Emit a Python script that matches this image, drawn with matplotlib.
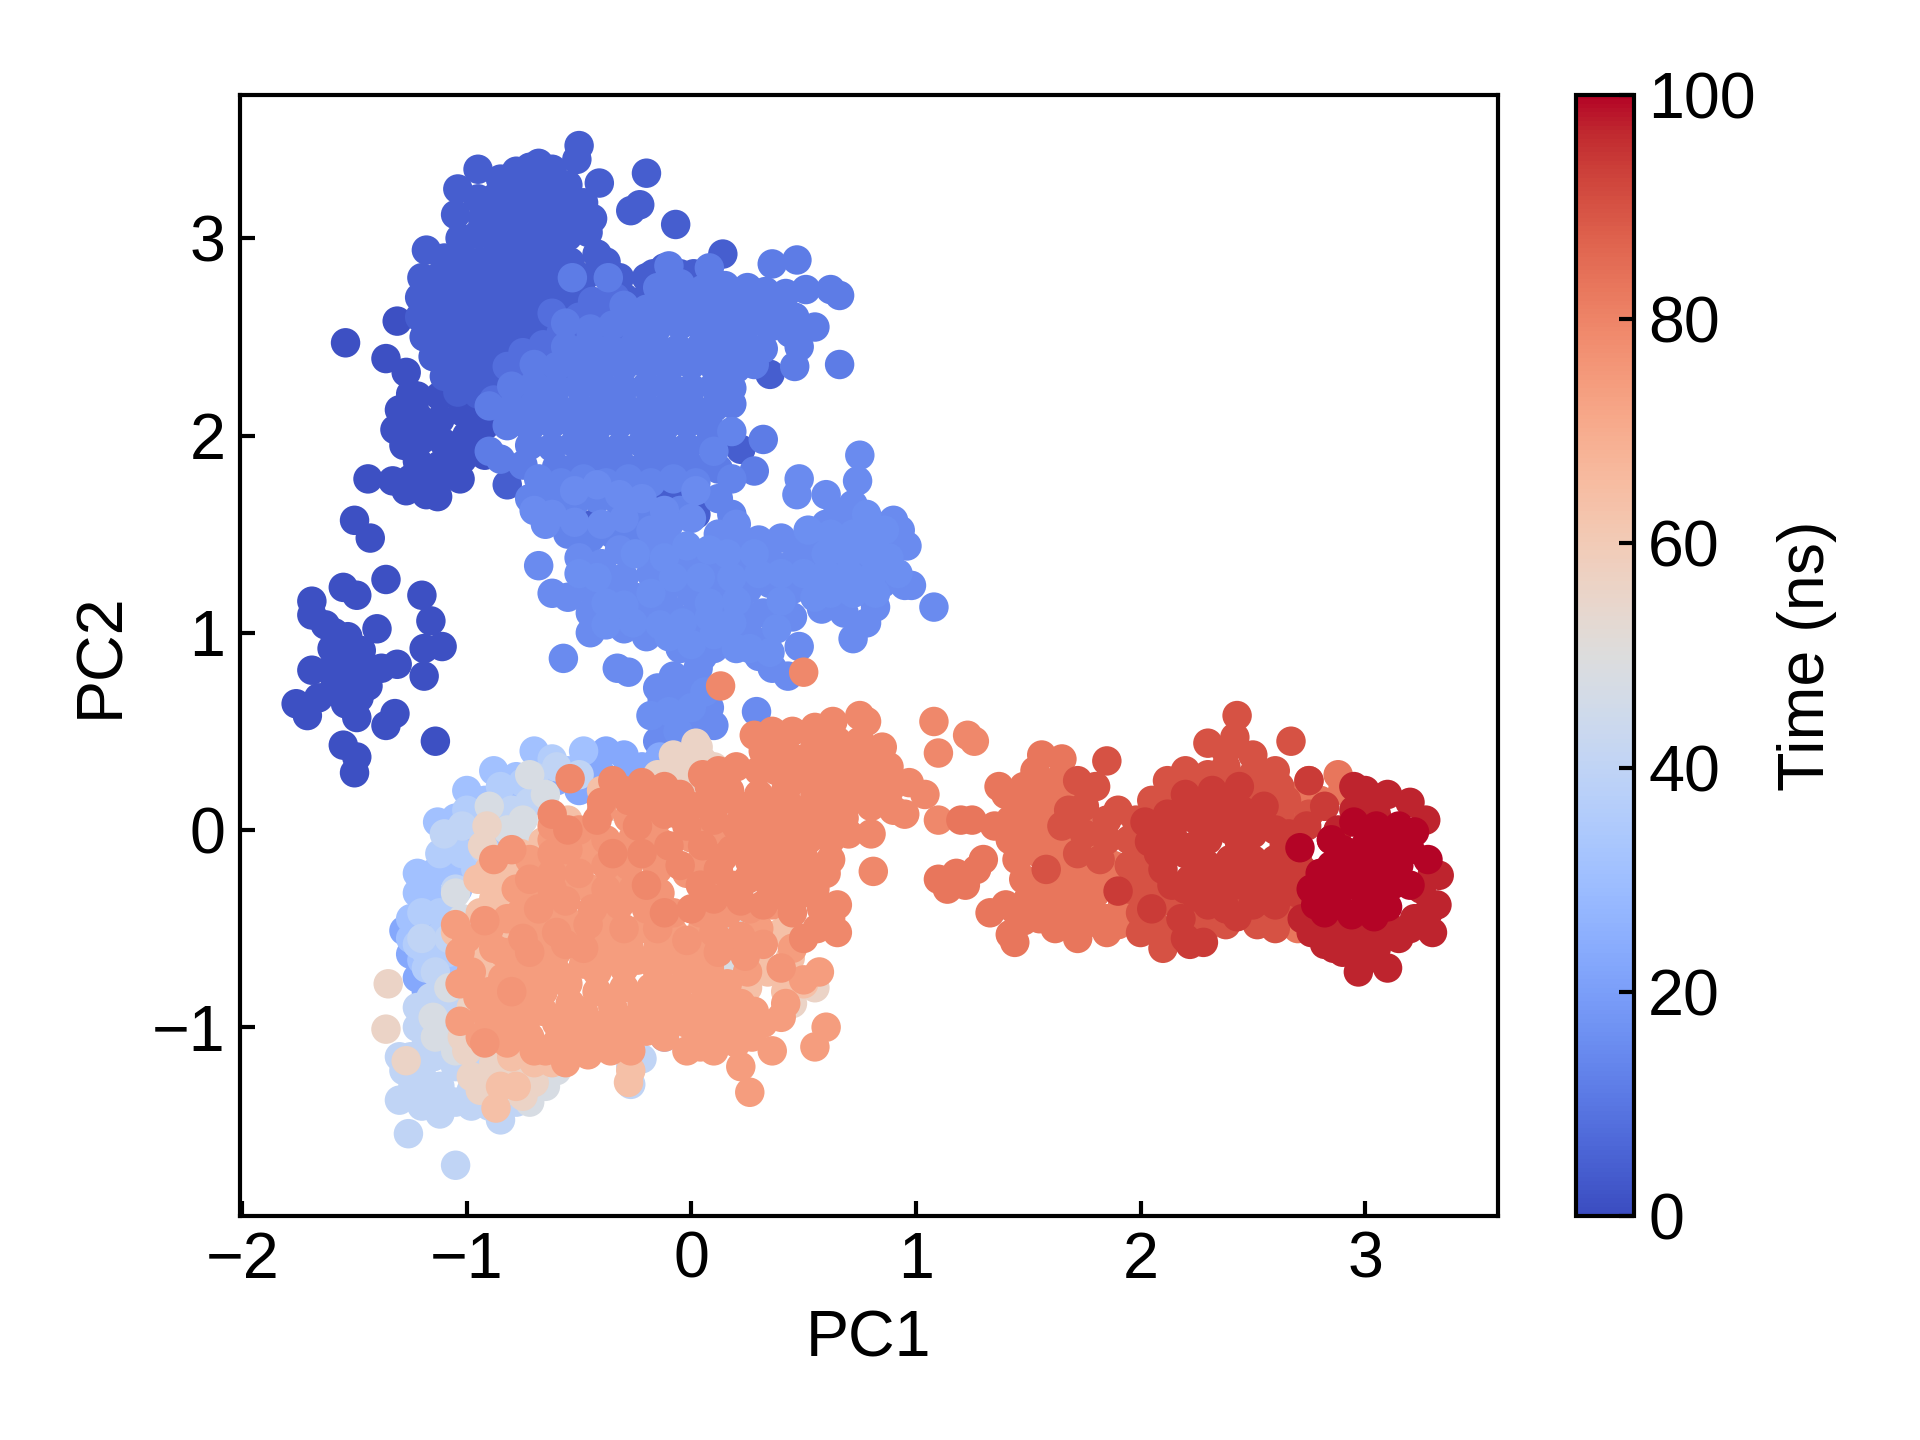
import numpy as np
import matplotlib
matplotlib.use("Agg")
import matplotlib.pyplot as plt

plt.rcParams['font.family'] = ['Liberation Sans', 'DejaVu Sans']
plt.rcParams['font.size'] = 15.5

# PC1/PC2 projections grouped by trajectory segment, oldest frames first
seg_01 = [(-1.69,1.16),(-1.69,1.09),(-1.55,1.23),(-1.49,1.19),(-1.40,1.02),(-1.36,1.27),(-1.20,1.19),(-1.16,1.06),
          (-1.19,0.92),(-1.11,0.93),(-1.19,0.78),(-1.31,0.84),(-1.32,0.59),(-1.36,0.53),(-1.14,0.45),(-1.55,0.43),
          (-1.49,0.37),(-1.50,0.29),(-1.76,0.64),(-1.71,0.58),(-1.69,0.81),(-1.63,1.04),(-1.59,1.00),(-1.53,0.98),
          (-1.60,0.92),(-1.52,0.86),(-1.45,0.83),(-1.66,0.67),(-1.59,0.72),(-1.54,0.64),(-1.48,0.67),(-1.44,0.73),
          (-1.49,0.57),(-1.56,0.78),(-1.61,0.81),(-1.47,0.91),(-1.38,0.82),(-1.51,0.75),(-1.44,1.78),(-1.50,1.57),
          (-1.43,1.48),(-1.33,1.77),(-1.25,1.78),(-1.13,1.69),(-1.32,2.03),(-1.30,2.13),(-1.25,2.21),(-1.27,2.32),
          (-1.36,2.39),(-1.31,2.58),(-1.54,2.47),(-1.30,2.05),(-1.22,2.10),(-1.12,2.08),(-1.02,2.12),(-1.28,1.95),
          (-1.20,1.98),(-1.10,1.96),(-1.00,2.00),(-0.92,2.05),(-1.22,1.87),(-1.12,1.85),(-1.02,1.88),(-0.92,1.90),
          (-1.20,1.76),(-1.12,1.78),(-1.03,1.78),(-1.27,1.72),(-1.18,1.70),(-1.22,2.20),(-1.12,2.20),(-1.02,2.22)]
seg_05 = [(-0.50,3.47),(-0.51,3.40),(-0.95,3.35),(-1.04,3.25),(-0.20,3.33),(-0.27,3.14),(-0.23,3.17),(-0.07,3.07),
          (-0.41,3.28),(0.14,2.92),(-0.68,3.38),(-0.72,3.36),(-0.62,3.35),(-0.78,3.34),(-0.85,3.30),(-0.77,3.28),
          (-0.70,3.30),(-0.62,3.27),(-0.55,3.27),(-0.95,3.20),(-0.87,3.21),(-0.80,3.19),(-0.72,3.20),(-0.64,3.18),
          (-0.56,3.20),(-0.48,3.18),(-1.05,3.12),(-0.93,3.10),(-0.84,3.12),(-0.76,3.09),(-0.68,3.10),(-0.60,3.11),
          (-0.52,3.08),(-0.44,3.10),(-1.03,3.00),(-0.95,3.02),(-0.87,2.99),(-0.79,3.01),(-0.71,3.00),(-0.63,2.99),
          (-0.55,3.01),(-0.46,3.03),(-1.18,2.94),(-1.10,2.90),(-1.02,2.91),(-0.94,2.88),(-0.86,2.90),(-0.78,2.91),
          (-0.70,2.89),(-0.62,2.90),(-0.54,2.88),(-0.42,2.92),(-0.38,2.88),(-1.20,2.80),(-1.12,2.81),(-1.04,2.79),
          (-0.96,2.80),(-0.88,2.78),(-0.80,2.80),(-0.72,2.79),(-0.64,2.81),(-0.56,2.78),(-0.48,2.80),(-0.32,2.80),
          (-1.21,2.70),(-1.13,2.69),(-1.05,2.71),(-0.97,2.70),(-0.89,2.68),(-0.81,2.70),(-0.73,2.69),(-0.65,2.71),
          (-0.57,2.68),(-0.49,2.70),(-0.40,2.67),(-0.30,2.70),(-1.21,2.60),(-1.13,2.59),(-1.05,2.61),(-0.97,2.60),
          (-0.89,2.58),(-0.81,2.60),(-0.73,2.59),(-0.65,2.61),(-0.57,2.58),(-0.49,2.60),(-0.40,2.56),(-1.19,2.50),
          (-1.11,2.51),(-1.03,2.49),(-0.95,2.50),(-0.87,2.48),(-0.79,2.50),(-0.71,2.52),(-0.63,2.49),(-0.50,2.50),
          (-1.15,2.40),(-1.07,2.41),(-0.99,2.39),(-0.91,2.40),(-0.83,2.38),(-0.75,2.41),(-1.10,2.30),(-1.02,2.31),
          (-0.94,2.29),(-0.86,2.30),(-1.04,2.22),(-0.95,2.21),(-0.20,2.80),(-0.17,2.82),(-0.12,2.85),(-0.05,2.82),
          (0.01,2.82),(0.05,2.78),(-0.20,2.70),(-0.28,2.62),(0.35,2.31),(0.22,1.93),(-0.25,1.75),(0.02,1.60),
          (-0.82,1.75),(-0.44,1.55),(-0.10,1.72),(-0.32,1.85)]
seg_09 = [(-0.75,2.42),(-0.66,2.46),(-0.58,2.52),(-0.50,2.60),(-0.44,2.68),(-0.62,2.38),(-0.53,2.44),(-0.45,2.50),
          (-0.38,2.58),(-0.70,2.32),(-0.60,2.30),(-0.48,2.36),(-0.40,2.42),(-0.32,2.50),(-0.78,2.25),(-0.88,2.18),
          (-0.82,2.35),(-0.62,2.62),(-0.34,2.70)]
seg_12 = [(-0.53,2.80),(-0.37,2.80),(-0.56,2.57),(-0.10,2.86),(0.08,2.85),(0.36,2.87),(0.47,2.89),(0.66,2.71),
          (0.62,2.74),(0.51,2.74),(0.55,2.55),(0.66,2.36),(0.46,2.35),(0.48,2.45),(-0.15,2.75),(-0.05,2.77),
          (0.05,2.74),(0.15,2.76),(0.25,2.75),(0.33,2.73),(0.42,2.72),(-0.30,2.66),(-0.20,2.64),(-0.10,2.66),
          (0.00,2.65),(0.10,2.64),(0.20,2.66),(0.30,2.64),(0.38,2.66),(0.46,2.60),(-0.45,2.54),(-0.35,2.56),
          (-0.25,2.54),(-0.15,2.55),(-0.05,2.56),(0.05,2.54),(0.15,2.55),(0.25,2.56),(0.35,2.55),(0.44,2.52),
          (-0.56,2.45),(-0.46,2.46),(-0.36,2.44),(-0.26,2.45),(-0.16,2.46),(-0.06,2.44),(0.04,2.45),(0.14,2.46),
          (0.24,2.45),(0.32,2.44),(-0.70,2.36),(-0.60,2.35),(-0.50,2.34),(-0.40,2.36),(-0.30,2.35),(-0.20,2.36),
          (-0.10,2.34),(0.00,2.36),(0.10,2.35),(0.20,2.34),(0.28,2.36),(-0.80,2.25),(-0.70,2.26),(-0.60,2.24),
          (-0.50,2.25),(-0.40,2.26),(-0.30,2.24),(-0.20,2.25),(-0.10,2.26),(0.00,2.24),(0.10,2.25),(0.18,2.24),
          (-0.90,2.15),(-0.80,2.14),(-0.70,2.16),(-0.60,2.15),(-0.50,2.14),(-0.40,2.16),(-0.30,2.15),(-0.20,2.14),
          (-0.10,2.16),(0.00,2.15),(0.10,2.14),(0.18,2.16),(-0.82,2.05),(-0.72,2.04),(-0.62,2.06),(-0.52,2.05),
          (-0.42,2.04),(-0.32,2.06),(-0.22,2.05),(-0.12,2.04),(-0.02,2.06),(0.08,2.04),(-0.90,1.92),(-0.85,1.88),
          (-0.72,1.95),(-0.62,1.94),(-0.52,1.96),(-0.42,1.95),(-0.32,1.94),(-0.22,1.96),(-0.12,1.95),(-0.02,1.94),
          (0.08,1.96),(0.32,1.98),(-0.75,1.85),(-0.60,1.84),(-0.50,1.86),(-0.40,1.85),(-0.30,1.84),(-0.20,1.86),
          (-0.10,1.85),(0.00,1.84),(0.12,1.83),(0.28,1.82)]
seg_15 = [(-0.68,1.78),(-0.58,1.76),(-0.48,1.78),(-0.38,1.76),(-0.28,1.78),(-0.18,1.76),(-0.08,1.78),(0.02,1.76),
          (0.18,1.78),(0.10,1.92),(0.18,2.02),(-0.72,1.68),(-0.62,1.68),(-0.52,1.66),(-0.42,1.68),(-0.32,1.66),
          (-0.22,1.60),(-0.05,1.62),(0.12,1.68),(0.18,1.60),(-0.55,1.50),(-0.45,1.48),(-0.35,1.50),(-0.25,1.50)]
seg_17 = [(-0.70,1.62),(-0.62,1.60),(-0.52,1.72),(-0.42,1.75),(-0.32,1.70),(-0.22,1.68),(-0.12,1.62),(0.02,1.72),
          (-0.65,1.55),(-0.52,1.56),(-0.40,1.55),(-0.30,1.58),(-0.18,1.52),(-0.10,1.55),(0.00,1.58),(0.12,1.50),
          (0.75,1.90),(0.74,1.77),(0.48,1.78),(0.47,1.70),(0.60,1.70),(0.72,1.65),(0.65,1.60),(0.60,1.55),
          (0.70,1.55),(0.80,1.56),(0.90,1.57),(0.93,1.52),(0.20,1.55),(0.20,1.45),(0.30,1.47),(0.40,1.48),
          (0.50,1.45),(0.60,1.46),(0.70,1.45),(0.80,1.44),(0.90,1.46),(0.96,1.44),(0.02,1.36),(0.12,1.35),
          (0.22,1.34),(0.35,1.36),(0.45,1.35),(0.55,1.34),(0.65,1.36),(0.75,1.35),(0.85,1.34),(-0.10,1.45),
          (-0.20,1.40),(-0.32,1.42),(-0.05,1.35),(-0.18,1.30),(-0.30,1.28),(-0.40,1.35),(-0.68,1.34),(-0.50,1.38),
          (-0.62,1.20),(-0.57,0.87),(0.29,0.60),(-0.55,1.18),(-0.45,1.22),(-0.35,1.20),(-0.25,1.18),(-0.12,1.22),
          (0.00,1.20),(0.12,1.24),(0.25,1.22),(0.35,1.25),(0.45,1.22),(0.55,1.24),(0.65,1.26),(0.75,1.26),
          (0.85,1.25),(0.95,1.24),(0.98,1.24),(1.08,1.13),(0.82,1.13),(0.78,1.05),(0.65,1.15),(0.68,1.10),
          (0.58,1.12),(0.72,0.97),(0.48,0.93),(-0.45,1.10),(-0.34,1.08),(-0.22,1.10),(-0.10,1.12),(0.02,1.10),
          (0.15,1.12),(0.25,1.08),(0.32,1.10),(0.45,1.08),(-0.45,1.00),(-0.30,1.02),(-0.20,0.98),(-0.05,1.00),
          (0.05,1.02),(0.15,0.98),(0.25,1.00),(0.32,0.95),(-0.05,0.92),(0.05,0.88),(0.10,0.92),(0.30,0.88),
          (0.36,0.82),(0.43,0.78),(-0.33,0.82),(-0.28,0.80),(0.03,0.82),(-0.15,0.72),(-0.08,0.78),(0.00,0.75),
          (-0.13,0.66),(-0.05,0.68),(0.03,0.65),(0.08,0.62),(-0.10,0.55),(-0.02,0.57),(0.05,0.55),(0.10,0.53),
          (-0.15,0.45),(-0.05,0.47),(0.02,0.42)]
seg_19 = [(-0.50,1.30),(-0.42,1.28),(-0.25,1.40),(-0.12,1.38),(-0.02,1.44),(0.08,1.42),(0.16,1.40),(0.28,1.40),
          (-0.38,1.15),(-0.30,1.14),(-0.18,1.20),(-0.08,1.28),(0.04,1.28),(0.18,1.28),(0.30,1.30),(0.40,1.30),
          (0.50,1.30),(0.60,1.30),(0.70,1.30),(0.80,1.28),(0.60,1.40),(0.70,1.40),(0.80,1.40),(0.88,1.38),
          (0.52,1.52),(0.62,1.50),(0.72,1.50),(0.82,1.50),(0.78,1.60),(0.86,1.52),(0.55,1.18),(0.62,1.20),
          (0.72,1.20),(0.82,1.20),(0.92,1.30),(0.40,1.16),(0.20,1.16),(0.08,1.15),(-0.04,1.05),(0.08,1.08),
          (0.18,1.05),(-0.14,1.04),(-0.26,1.05),(-0.38,1.04),(-0.10,0.98),(0.00,0.94),(0.10,0.99),(0.20,0.92),
          (0.26,0.92),(0.38,1.02),(0.35,0.90),(-0.10,0.60),(0.00,0.62),(0.06,0.70),(-0.06,0.50),(-0.18,0.58)]
seg_23 = [(-0.47,0.38),(-0.38,0.40),(-0.30,0.38),(-0.40,0.28),(-0.30,0.27),(-0.22,0.32),(-0.14,0.37),(-0.10,0.25),
          (-0.02,0.32),(-1.28,-0.51),(-1.25,-0.63),(-1.22,-0.75),(-1.18,-0.82),(-1.14,-0.90),(-1.12,-0.55),(-0.12,-1.05),
          (-0.60,0.25),(-0.50,0.20)]
seg_31 = [(-1.00,0.20),(-0.88,0.30),(-0.70,0.40),(-0.78,0.27),(-0.68,0.27),(-0.92,0.15),(-0.80,0.17),(-0.70,0.18),
          (-1.13,0.04),(-1.05,0.06),(-0.95,0.05),(-0.85,0.08),(-1.08,-0.08),(-1.00,-0.05),(-0.90,-0.03),(-1.22,-0.22),
          (-1.15,-0.22),(-1.05,-0.18),(-1.22,-0.32),(-1.14,-0.35),(-1.04,-0.30),(-1.25,-0.45),(-1.17,-0.48),(-1.08,-0.42),
          (-1.25,-0.55),(-1.15,-0.60),(-1.20,-0.66),(-1.10,-0.68),(-0.48,0.40),(-0.55,0.30)]
seg_36 = [(-0.85,0.22),(-0.75,0.24),(-0.62,0.36),(-1.00,0.10),(-0.92,0.02),(-1.12,-0.12),(-1.02,-0.12),(-0.96,-0.20),
          (-1.20,-0.42),(-1.12,-0.42),(-1.22,-0.58),(-1.12,-0.54),(-1.05,-0.48),(-1.18,-0.70),(-1.08,-0.62),(-1.18,-0.62)]
seg_40 = [(-0.50,0.28),(-0.60,0.32),(-0.70,0.27),(-0.80,0.10),(-0.72,0.14),(-1.10,-0.02),(-1.02,0.02),(-0.92,-0.10),
          (-1.05,-0.30),(-1.20,-0.55),(-1.14,-0.72),(-1.08,-0.55),(-1.22,-1.00),(-1.25,-1.15),(-1.30,-1.37),(-1.20,-1.40),
          (-1.12,-1.44),(-1.26,-1.54),(-1.05,-1.70),(-1.20,-1.25),(-1.12,-1.30),(-1.05,-1.38),(-0.98,-1.40),(-0.90,-1.40),
          (-0.85,-1.47),(-0.78,-1.38),(-0.70,-1.30),(-0.63,-1.22),(-0.58,-1.12),(-1.15,-1.15),(-1.05,-1.20),(-0.95,-1.25),
          (-0.85,-1.25),(-0.75,-1.20),(-1.10,-1.05),(-1.00,-1.08),(-0.90,-1.10),(-0.27,-1.29),(-0.27,-1.20),(-0.22,-1.16),
          (-1.18,-1.08),(-1.08,-1.15),(-0.98,-1.32),(-0.85,-1.35),(-0.78,-1.28),(-1.16,-1.32),(-1.10,-1.36),(-1.00,-1.18),
          (-1.08,-0.95),(-1.00,-0.95),(-1.16,-0.85),(-1.06,-0.85),(-1.28,-1.22),(-1.24,-1.30),(-1.30,-1.15),(-1.22,-0.90)]
seg_48 = [(-0.90,0.12),(-0.82,0.00),(-0.72,-0.08),(-0.75,0.05),(-0.85,-0.18),(-1.02,-0.45),(-1.05,-0.32),(-0.98,-0.55),
          (-1.08,-0.80),(-1.15,-0.95),(-1.14,-1.05),(-1.05,-1.12),(-0.78,-1.05),(-0.75,-1.15),(-0.68,-1.22),(-0.80,-1.32),
          (-0.90,-1.30),(-0.72,-1.38),(0.20,-0.45),(0.28,-0.55),(0.30,-0.62),(0.22,-0.60),(0.10,-0.68),(0.18,-0.72),
          (-0.70,-1.10),(-0.65,-1.30),(-0.60,-1.22),(-0.82,-1.12),(-0.72,0.28),(-0.65,0.18),(-0.62,0.05)]
seg_56 = [(-1.35,-0.78),(-1.36,-1.01),(-1.27,-1.17),(-0.91,0.02),(-0.93,-0.08),(-0.85,-0.15),(-1.00,-0.62),(-1.02,-0.78),
          (-0.98,-0.90),(-1.02,-1.05),(-0.98,-1.25),(-0.88,-1.25),(-1.00,-1.12),(-0.92,-1.02),(-0.80,-1.20),(-0.75,-1.35),
          (0.03,0.42),(0.05,0.35),(-0.15,0.28),(-0.03,0.30),(0.10,0.32),(-0.25,0.15),(-0.35,0.12),(0.00,0.22),
          (0.55,-0.80),(0.45,-0.88),(-0.88,-1.18),(-0.94,-1.32),(-0.70,-1.28),(-0.08,0.38),(0.02,0.44)]
seg_64 = [(-0.95,-0.25),(-0.85,-0.40),(-0.90,-0.55),(-1.05,-0.52),(-0.98,-0.62),(-0.90,-0.70),(-0.92,-1.00),(-0.85,-1.30),
          (-0.87,-1.41),(-0.78,-1.30),(-0.50,-1.05),(-0.27,-1.22),(-0.40,-1.10),(-0.68,-0.20),(-0.55,0.05),(-0.40,0.20),
          (0.28,-0.72),(0.42,-0.82),(0.50,-0.78),(0.34,-0.72),(0.25,-0.80),(0.44,-0.65),(0.40,-0.52),(-0.30,-1.05),
          (0.15,-0.32),(-0.12,-0.90),(-0.90,-0.20),(-0.82,-0.15),(-0.88,-0.35),(-0.78,-0.25),(-0.84,-0.55),(-0.80,-1.15),
          (-0.70,-1.18),(-0.95,-0.85),(-0.88,-0.90),(-0.62,-1.18),(-0.28,-1.28),(-0.94,-0.42),(-0.84,-0.30),(-0.72,-0.38),
          (-0.76,-0.12),(-0.66,-0.06)]
seg_73 = [(-1.05,-0.48),(-1.03,-0.62),(-1.00,-0.55),(-1.03,-0.78),(-1.03,-0.97),(-0.95,-0.85),(-0.90,-0.97),(-0.86,-1.05),
          (-0.80,-0.72),(-0.88,-0.60),(-0.82,-0.45),(-0.78,-0.30),(-0.72,-0.15),(-0.62,-0.05),(-0.70,-0.30),(-0.60,-0.18),
          (-0.48,-0.08),(-0.70,-0.50),(-0.58,-0.42),(-0.45,-0.30),(-0.32,-0.25),(-0.18,-0.28),(-0.72,-0.72),(-0.60,-0.62),
          (-0.48,-0.55),(-0.35,-0.48),(-0.22,-0.50),(-0.08,-0.52),(0.05,-0.50),(-0.78,-0.90),(-0.66,-0.82),(-0.55,-0.78),
          (-0.42,-0.72),(-0.30,-0.70),(-0.15,-0.72),(-0.02,-0.72),(0.08,-0.70),(-0.72,-1.05),(-0.60,-0.98),(-0.48,-0.92),
          (-0.35,-0.90),(-0.22,-0.88),(-0.10,-0.88),(0.02,-0.90),(0.12,-0.85),(0.22,-0.88),(-0.65,-1.12),(-0.52,-1.10),
          (-0.42,-1.05),(-0.32,-1.05),(-0.20,-1.02),(-0.12,-1.05),(-0.02,-1.12),(0.04,-1.10),(0.10,-1.12),(0.20,-1.08),
          (0.27,-1.05),(0.32,-0.98),(0.40,-0.95),(0.42,-0.88),(0.50,-0.76),(0.57,-0.72),(0.60,-1.00),(0.55,-1.10),
          (0.36,-1.12),(0.22,-1.20),(0.26,-1.33),(-0.55,-0.25),(-0.42,-0.12),(0.30,-0.50),(0.45,-0.60),
          (-0.98,-0.72),(-0.90,-0.82),(-0.84,-0.92),(-0.74,-0.98),(-0.94,-1.05),(-0.82,-1.08),(-0.90,-0.50),(-0.84,-0.62),
          (-0.76,-0.58),(-0.66,-0.62),(-0.76,-0.42),(-0.65,-0.42),(-0.52,-0.48),(-0.40,-0.58),(-0.28,-0.58),(-0.15,-0.60),
          (-0.72,-0.82),(-0.60,-0.72),(-0.48,-0.68),(-0.36,-0.62),(-0.24,-0.66),(-0.10,-0.66),(0.02,-0.62),(0.12,-0.60),
          (-0.66,-0.92),(-0.54,-0.88),(-0.42,-0.82),(-0.30,-0.80),(-0.18,-0.80),(-0.06,-0.80),(0.06,-0.80),(0.16,-0.78),
          (0.25,-0.72),(-0.60,-1.08),(-0.50,-1.00),(-0.38,-0.98),(-0.26,-0.96),(-0.14,-0.96),(-0.02,-0.98),(0.08,-0.98),
          (0.18,-0.95),(0.28,-0.92),(-0.56,-1.18),(-0.46,-1.14),(-0.36,-1.12),(-0.27,-1.12),(0.14,-1.02),(0.24,-0.98),
          (-0.84,-0.75),(-0.92,-0.92),(-0.70,-1.12),(-0.78,-1.00)]
seg_76 = [(-0.72,-0.25),(-0.62,-0.30),(-0.50,-0.22),(-0.38,-0.18),(-0.28,-0.18),(-0.15,-0.20),(-0.02,-0.22),(0.10,-0.24),
          (-0.68,-0.40),(-0.56,-0.36),(-0.44,-0.40),(-0.32,-0.38),(-0.20,-0.40),(-0.08,-0.42),(0.04,-0.42),(0.16,-0.42),
          (0.26,-0.40),(0.36,-0.38),(-0.60,-0.52),(-0.46,-0.48),(-0.30,-0.50),(-0.15,-0.50),(-0.02,-0.56),(0.10,-0.52),
          (0.22,-0.54),(0.32,-0.58),(-0.88,-0.15),(-0.55,-0.10),(-0.38,-0.05),(-0.26,-0.04),(-0.14,-0.06),(0.00,-0.04),
          (-0.48,-0.60),(-0.56,-0.58),(0.12,-0.62),(0.24,-0.64),(0.40,-0.70),(-0.38,-0.30),(-0.26,-0.30),(-0.14,-0.32),
          (-0.80,-0.10),(-0.62,-0.12),(-0.62,0.02),(-0.50,0.00),(-0.40,0.10),(-0.28,0.06),(-0.16,0.04),(-0.06,0.08),
          (0.05,-0.14),(0.12,-0.02),(-0.92,-0.46),(-0.75,-0.55),(-0.72,-0.62),(-0.92,-1.08),(-0.80,-0.82),(-0.62,-0.22)]
seg_78 = [(0.13,0.73),(0.50,0.80),(-0.54,0.26),(-0.55,0.00),(-0.42,0.05),(-0.35,0.25),(-0.28,0.15),(-0.20,0.12),
          (-0.12,0.22),(-0.05,0.18),(0.05,0.28),(0.12,0.30),(0.17,0.20),(0.28,0.48),(0.32,0.40),(0.38,0.30),
          (0.45,0.50),(0.55,0.52),(0.63,0.55),(0.75,0.58),(0.78,0.55),(0.55,0.42),(0.65,0.45),(0.75,0.45),
          (0.85,0.42),(0.30,0.18),(0.42,0.20),(0.52,0.25),(0.62,0.30),(0.72,0.32),(0.80,0.30),(0.88,0.20),
          (0.97,0.24),(0.90,0.10),(0.80,0.12),(0.70,0.14),(0.60,0.12),(0.50,0.08),(0.40,0.05),(0.30,0.02),
          (0.20,0.02),(0.10,0.05),(-0.02,0.02),(0.05,-0.08),(0.18,-0.10),(0.30,-0.12),(0.42,-0.08),(0.52,-0.05),
          (0.62,-0.05),(0.70,-0.02),(0.60,-0.22),(0.80,-0.02),(0.42,-0.22),(0.35,-0.28),(0.25,-0.25),(0.12,-0.20),
          (0.62,-0.15),(0.50,-0.32),(0.45,-0.42),(0.58,-0.40),(0.65,-0.38),(0.10,-0.35),(0.00,-0.40),(-0.12,-0.42),
          (-0.05,-0.18),(-0.35,-0.12),(-0.20,-0.28),(1.08,0.55),(1.10,0.39),(1.23,0.48),(1.26,0.45),(0.81,-0.21),
          (0.65,-0.52),(0.50,-0.55),(1.04,0.18),(0.95,0.08),(1.10,0.05),
          (0.36,0.50),(0.42,0.40),(0.50,0.36),(0.60,0.38),(0.70,0.38),(0.80,0.38),(0.88,0.32),(0.20,0.32),(0.30,0.30),
          (0.44,0.30),(0.55,0.32),(0.66,0.24),(0.76,0.22),(0.85,0.14),(0.22,0.12),(0.32,0.12),(0.44,0.12),(0.55,0.18),
          (0.12,0.14),(0.00,0.12),(0.08,0.22),(-0.12,0.08),(-0.24,0.02),(-0.10,-0.08),(-0.22,-0.12),(0.22,-0.04),
          (0.34,-0.04),(0.46,0.00),(0.58,0.04),(0.68,0.06),(0.14,-0.14),(0.26,-0.16),(0.38,-0.14),(0.50,-0.14),
          (0.52,-0.22),(0.30,-0.20),(0.18,-0.28),(0.04,-0.28),(0.42,-0.34),(0.32,-0.38),(0.22,-0.36),(0.55,-0.30),
          (-0.30,0.20),(-0.22,0.24),(-0.40,0.14),(-0.62,0.08),(0.62,-0.45),(0.56,-0.50)]
seg_83 = [(1.20,0.05),(1.25,0.05),(1.35,0.02),(1.10,-0.25),(1.14,-0.30),(1.18,-0.22),(1.22,-0.28),(1.27,-0.20),
          (1.30,-0.15),(1.33,-0.42),(1.42,-0.53),(1.44,-0.57),(1.37,0.22),(1.40,0.18),(1.53,0.30),(1.56,0.38),
          (1.65,0.36),(1.42,0.05),(1.50,0.10),(1.60,0.15),(1.70,0.20),(1.42,-0.05),(1.50,-0.02),(1.60,0.02),
          (1.72,0.05),(1.45,-0.15),(1.55,-0.12),(1.65,-0.10),(1.75,-0.08),(1.48,-0.25),(1.58,-0.22),(1.68,-0.25),
          (1.78,-0.20),(1.50,-0.35),(1.60,-0.32),(1.70,-0.38),(1.80,-0.32),(1.85,-0.25),(1.45,-0.42),(1.55,-0.45),
          (1.65,-0.45),(1.75,-0.48),(1.85,-0.45),(1.72,-0.55),(1.85,-0.52),(2.68,0.05),(2.75,0.25),(2.88,0.28),
          (2.90,0.20),(2.85,-0.35),(2.72,-0.25),(2.75,-0.40),
          (1.48,0.22),(1.56,0.24),(1.64,0.26),(1.52,0.16),(1.62,0.08),(1.46,0.04),(1.56,-0.04),(1.66,-0.02),(1.50,-0.08),
          (1.58,-0.16),(1.70,-0.16),(1.62,-0.28),(1.74,-0.28),(1.52,-0.30),(1.40,-0.38),(1.48,-0.46),(1.58,-0.40),
          (1.68,-0.42),(1.78,-0.40),(1.62,-0.50),(1.90,-0.48),(1.92,-0.38),(1.88,-0.18),(1.82,-0.10),(2.70,-0.50),
          (2.80,0.15),(2.72,0.18),(2.80,-0.48)]
seg_88 = [(1.58,-0.20),(1.85,0.35),(1.72,0.25),(1.80,0.22),(1.68,0.10),(1.75,0.12),(1.85,0.05),(1.90,0.10),
          (1.65,0.02),(1.75,-0.02),(1.85,-0.05),(1.95,-0.05),(2.05,0.00),(1.72,-0.12),(1.82,-0.15),(2.12,0.25),
          (2.20,0.30),(2.30,0.28),(2.40,0.25),(2.05,0.15),(2.15,0.10),(2.05,-0.20),(1.95,-0.30),(2.00,-0.42),
          (2.05,-0.45),(2.00,-0.52),(2.15,-0.52),(2.28,-0.52),(2.38,-0.48),(2.52,-0.48),(2.60,-0.50),(2.25,-0.42),
          (2.43,0.58),(2.42,0.47),(2.30,0.44),(2.38,0.40),(2.50,0.38),(2.67,0.45),(2.60,0.30),(2.55,0.25),
          (2.45,0.18),(2.65,0.15),(2.75,0.08),(2.10,-0.60),
          (2.10,-0.08),(2.02,-0.12),(1.95,-0.18),(2.02,-0.30),(2.10,-0.36),(2.18,-0.42),(2.08,-0.50),(2.32,-0.45),
          (2.42,-0.40),(2.50,-0.42),(2.58,-0.42),(2.64,-0.40),(2.68,-0.30),(2.68,-0.12),(2.70,0.00),(2.62,0.08),
          (2.50,0.28),(2.38,0.32),(2.26,0.20),(2.12,0.16),(1.98,0.05),(2.62,0.22),(2.52,0.18)]
seg_93 = [(1.90,-0.31),(2.05,-0.40),(2.20,-0.55),(2.18,-0.45),(2.22,-0.58),(2.10,-0.20),(2.15,-0.05),(2.25,0.05),
          (2.12,0.08),(2.20,0.18),(2.28,0.12),(2.35,0.15),(2.45,0.10),(2.55,0.12),(2.60,0.00),(2.50,-0.02),
          (2.40,0.00),(2.30,-0.05),(2.20,-0.12),(2.30,-0.18),(2.40,-0.15),(2.50,-0.15),(2.60,-0.15),(2.70,-0.12),
          (2.22,-0.25),(2.32,-0.30),(2.42,-0.28),(2.52,-0.28),(2.62,-0.30),(2.70,-0.32),(2.38,-0.40),(2.50,-0.38),
          (2.60,-0.38),(2.25,-0.34),(2.28,-0.57),(2.43,-0.44),(2.75,0.25),(2.85,-0.05),(2.82,0.12),
          (2.18,0.06),(2.12,-0.02),(2.08,-0.12),(2.14,-0.28),(2.24,-0.08),(2.34,0.06),(2.44,-0.06),(2.54,0.04),
          (2.64,-0.08),(2.26,-0.18),(2.36,-0.24),(2.46,-0.22),(2.56,-0.22),(2.66,-0.22),(2.30,-0.38),(2.20,-0.30),
          (2.04,-0.06),(2.02,0.04),(2.32,0.20),(2.44,0.22),(2.56,-0.34),(2.66,-0.02),(2.72,-0.20),(2.74,0.02)]
seg_97 = [(2.95,0.22),(3.00,0.20),(3.10,0.18),(2.95,0.10),(3.05,0.08),(3.20,0.14),(3.27,0.05),(3.18,-0.02),(3.10,-0.70),
          (2.97,-0.72),(2.90,-0.62),(2.82,-0.58),(2.80,-0.48),(2.95,-0.55),(3.05,-0.60),(3.15,-0.55),(3.22,-0.45),
          (3.30,-0.52),(3.32,-0.38),(3.30,-0.22),(3.33,-0.23),(3.25,-0.30),(3.20,-0.50),(2.72,-0.45),(2.90,-0.50),
          (3.00,-0.50),(3.10,-0.48),(3.28,-0.42),(2.76,-0.52),(2.88,0.00),(2.86,-0.60),(3.02,-0.65)]
seg_100 = [(2.71,-0.09),(2.80,-0.22),(2.85,-0.05),(2.95,0.04),(3.05,0.02),(3.15,0.02),(3.22,-0.01),(3.28,-0.15),
           (2.90,-0.10),(3.00,-0.08),(3.10,-0.08),(3.20,-0.10),(2.85,-0.18),(2.95,-0.18),(3.05,-0.18),(3.15,-0.18),
           (2.82,-0.28),(2.92,-0.28),(3.02,-0.28),(3.12,-0.28),(3.20,-0.28),(2.78,-0.38),(2.88,-0.38),(3.00,-0.38),
           (3.10,-0.39),(2.82,-0.42),(2.94,-0.43),(3.04,-0.44),(2.76,-0.30)]

# time stamp (ns) of each segment, same order as the list below
segments = [seg_01, seg_05, seg_09, seg_12, seg_15, seg_17, seg_19, seg_23, seg_31, seg_36, seg_40, seg_48, seg_56,
            seg_64, seg_73, seg_76, seg_78, seg_83, seg_88, seg_93, seg_97, seg_100]
seg_times = [1, 4, 8, 11, 13, 15, 16, 23, 31, 36, 40, 48, 56, 64, 74, 76, 79, 83, 90, 94, 97, 100]

fig = plt.figure(figsize=(6.4, 4.8), dpi=300)
ax = fig.add_axes([0.125, 0.1556, 0.655, 0.7785])

for points, t in zip(segments, seg_times):
    xy = np.array(points)
    sc = ax.scatter(xy[:, 0], xy[:, 1], c=np.full(len(xy), t), cmap='coolwarm', vmin=0, vmax=100, s=50, linewidths=0)

ax.set_xlim(-2.01, 3.59)
ax.set_ylim(-1.957, 3.727)
ax.set_xticks([-2, -1, 0, 1, 2, 3])
ax.set_yticks([-1, 0, 1, 2, 3])
ax.set_xlabel('PC1', fontsize=15.5, labelpad=4.5)
ax.set_ylabel('PC2', fontsize=15.5, labelpad=5)
ax.tick_params(direction='in', length=3.5, width=1, labelsize=15.5)
for spine in ax.spines.values():
    spine.set_linewidth(1)

cax = fig.add_axes([0.8208, 0.1556, 0.0300, 0.7785])
cbar = fig.colorbar(sc, cax=cax)
cbar.set_ticks([0, 20, 40, 60, 80, 100])
cbar.set_label('Time (ns)', fontsize=15.5, labelpad=5)
cbar.ax.tick_params(direction='in', length=3.5, width=1, labelsize=15.5)
cbar.outline.set_linewidth(1)

plt.savefig('out.png', dpi=300)
plt.close()
